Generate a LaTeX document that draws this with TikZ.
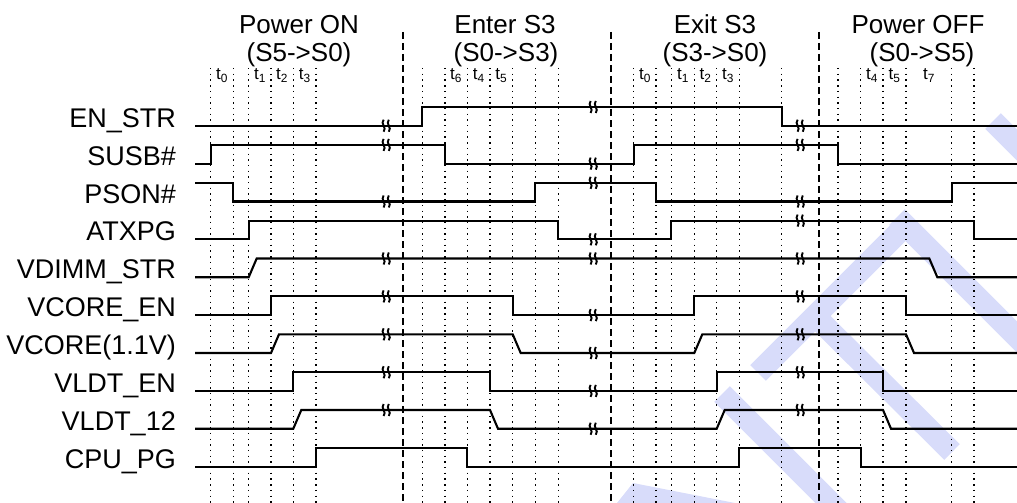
\documentclass[tikz,border=0pt]{standalone}
\usepackage{fontspec}
\setmainfont{Liberation Sans}
\definecolor{wm}{RGB}{216,220,250}
\begin{document}
\begin{tikzpicture}[x=1pt,y=-1pt,
  sig/.style={line width=2.1pt, line join=miter},
  gridline/.style={line width=1.4pt, dash pattern=on 1.4pt off 4.3pt},
  sectline/.style={line width=2pt, dash pattern=on 7pt off 4pt},
  lbl/.style={font=\fontsize{27}{30}\selectfont, anchor=base east, inner sep=0pt},
  ttl/.style={font=\fontsize{26}{30}\selectfont, anchor=base, inner sep=0pt},
  tl/.style={font=\fontsize{17}{18}\selectfont, anchor=base, inner sep=0pt},
  band/.style={wm, line width=22pt, line cap=butt},
  brkmark/.pic={
    \draw[line width=1.9pt] (-2.4,-6) .. controls (-6,-2) and (1.2,2) .. (-2.4,6);
    \draw[line width=1.9pt] (2.8,-6) .. controls (-0.8,-2) and (6.4,2) .. (2.8,6);
  }]
\useasboundingbox (0,0) rectangle (1017,503);
% watermark
\draw[band] (758,373) -- (906,225);
\draw[band] (897,217) -- (1045,365);
\draw[band] (815,316) -- (952,452);
\draw[band] (722,394) -- (850,522);
\draw[band] (993,121) -- (1045,173);
\fill[wm] (617,503) -- (633,483) -- (735,503) -- cycle;
% grid lines
\foreach \x in {210.7,233.3,248.7,271,293.3,316,422.3,445,467.3,490,512.7,535.3,558.3,633.7,656,671.3,694.3,716.7,739.3,781.7,838,860.7,883,906,951.7,974}
  \draw[gridline] (\x,68) -- (\x,503);
\foreach \x in {403.3,611,818.7}
  \draw[sectline] (\x,32) -- (\x,503);
% titles
\node[ttl] (p1) at (299,33.5) {Power ON};
\node[ttl] (p1b) at (299,61.5) {(S5->S0)};
\node[ttl] (e1) at (505,33.5) {Enter S3};
\node[ttl] (e1b) at (506,61.5) {(S0->S3)};
\node[ttl] (x1) at (715,33.5) {Exit S3};
\node[ttl] (x1b) at (715,61.5) {(S3->S0)};
\node[ttl] (o1) at (918,33.5) {Power OFF};
\node[ttl] (o1b) at (922,61.5) {(S0->S5)};
% time labels
\node[tl] (ta0) at (222,80) {t\textsubscript{0}};
\node[tl] (ta1) at (260,80) {t\textsubscript{1}};
\node[tl] (ta2) at (282,80) {t\textsubscript{2}};
\node[tl] (ta3) at (304.7,80) {t\textsubscript{3}};
\node[tl] (tb6) at (456,80) {t\textsubscript{6}};
\node[tl] (tb4) at (478.7,80) {t\textsubscript{4}};
\node[tl] (tb5) at (501.3,80) {t\textsubscript{5}};
\node[tl] (tc0) at (645,80) {t\textsubscript{0}};
\node[tl] (tc1) at (683,80) {t\textsubscript{1}};
\node[tl] (tc2) at (705.5,80) {t\textsubscript{2}};
\node[tl] (tc3) at (728,80) {t\textsubscript{3}};
\node[tl] (td4) at (872,80) {t\textsubscript{4}};
\node[tl] (td5) at (894.5,80) {t\textsubscript{5}};
\node[tl] (td7) at (929,80) {t\textsubscript{7}};
\def\h{-18.7}
% EN_STR
\begin{scope}[shift={(0,125.7)}]
  \node[lbl] (l0) at (176,1.5) {EN\_STR};
  \draw[sig] (195,0) -| (422.3,\h) -| (781.7,0) -- (1017,0);
  \pic at (386,0) {brkmark}; \pic at (593,\h) {brkmark}; \pic at (800,0) {brkmark};
\end{scope}
% SUSB#
\begin{scope}[shift={(0,163.6)}]
  \node[lbl] (l1) at (176,1.5) {SUSB\#};
  \draw[sig] (195,0) -| (210.7,\h) -| (445,0) -| (633.7,\h) -| (838,0) -- (1017,0);
  \pic at (386,\h) {brkmark}; \pic at (593,0) {brkmark}; \pic at (800,\h) {brkmark};
\end{scope}
% PSON#
\begin{scope}[shift={(0,201.5)}]
  \node[lbl] (l2) at (176,1.5) {PSON\#};
  \draw[sig] (195,\h) -| (233.3,0) -| (535.3,\h) -| (656,0) -| (951.7,\h) -- (1017,\h);
  \pic at (386,0) {brkmark}; \pic at (593,\h) {brkmark}; \pic at (800,0) {brkmark};
\end{scope}
% ATXPG
\begin{scope}[shift={(0,239.3)}]
  \node[lbl] (l3) at (176,1.5) {ATXPG};
  \draw[sig] (195,0) -| (248.7,\h) -| (558.3,0) -| (671.3,\h) -| (974,0) -- (1017,0);
  \pic at (593,0) {brkmark}; \pic at (800,\h) {brkmark};
\end{scope}
% VDIMM_STR
\begin{scope}[shift={(0,277.2)}]
  \node[lbl] (l4) at (176,1.5) {VDIMM\_STR};
  \draw[sig] (195,0) -- (248.7,0) -- (256.7,\h) -- (929.3,\h) -- (937.3,0) -- (1017,0);
  \pic at (386,\h) {brkmark}; \pic at (593,\h) {brkmark}; \pic at (800,\h) {brkmark};
\end{scope}
% VCORE_EN
\begin{scope}[shift={(0,315.1)}]
  \node[lbl] (l5) at (176,1.5) {VCORE\_EN};
  \draw[sig] (195,0) -| (271,\h) -| (512.7,0) -| (694.3,\h) -| (906,0) -- (1017,0);
  \pic at (386,\h) {brkmark}; \pic at (593,0) {brkmark}; \pic at (800,\h) {brkmark};
\end{scope}
% VCORE(1.1V)
\begin{scope}[shift={(0,353.0)}]
  \node[lbl] (l6) at (176,1.5) {VCORE(1.1V)};
  \draw[sig] (195,0) -- (271,0) -- (279,\h) -- (512.7,\h) -- (520.7,0) -- (694.3,0) -- (702.3,\h) -- (906,\h) -- (914,0) -- (1017,0);
  \pic at (386,\h) {brkmark}; \pic at (593,0) {brkmark}; \pic at (800,\h) {brkmark};
\end{scope}
% VLDT_EN
\begin{scope}[shift={(0,390.9)}]
  \node[lbl] (l7) at (176,1.5) {VLDT\_EN};
  \draw[sig] (195,0) -| (293.3,\h) -| (490,0) -| (716.7,\h) -| (883,0) -- (1017,0);
  \pic at (386,\h) {brkmark}; \pic at (593,0) {brkmark}; \pic at (800,\h) {brkmark};
\end{scope}
% VLDT_12
\begin{scope}[shift={(0,428.7)}]
  \node[lbl] (l8) at (176,1.5) {VLDT\_12};
  \draw[sig] (195,0) -- (293.3,0) -- (301.3,\h) -- (490,\h) -- (498,0) -- (716.7,0) -- (724.7,\h) -- (883,\h) -- (891,0) -- (1017,0);
  \pic at (386,\h) {brkmark}; \pic at (593,0) {brkmark}; \pic at (800,\h) {brkmark};
\end{scope}
% CPU_PG
\begin{scope}[shift={(0,466.6)}]
  \node[lbl] (l9) at (176,1.5) {CPU\_PG};
  \draw[sig] (195,0) -| (316,\h) -| (467.3,0) -| (739.3,\h) -| (860.7,0) -- (1017,0);
\end{scope}
\end{tikzpicture}
\end{document}
